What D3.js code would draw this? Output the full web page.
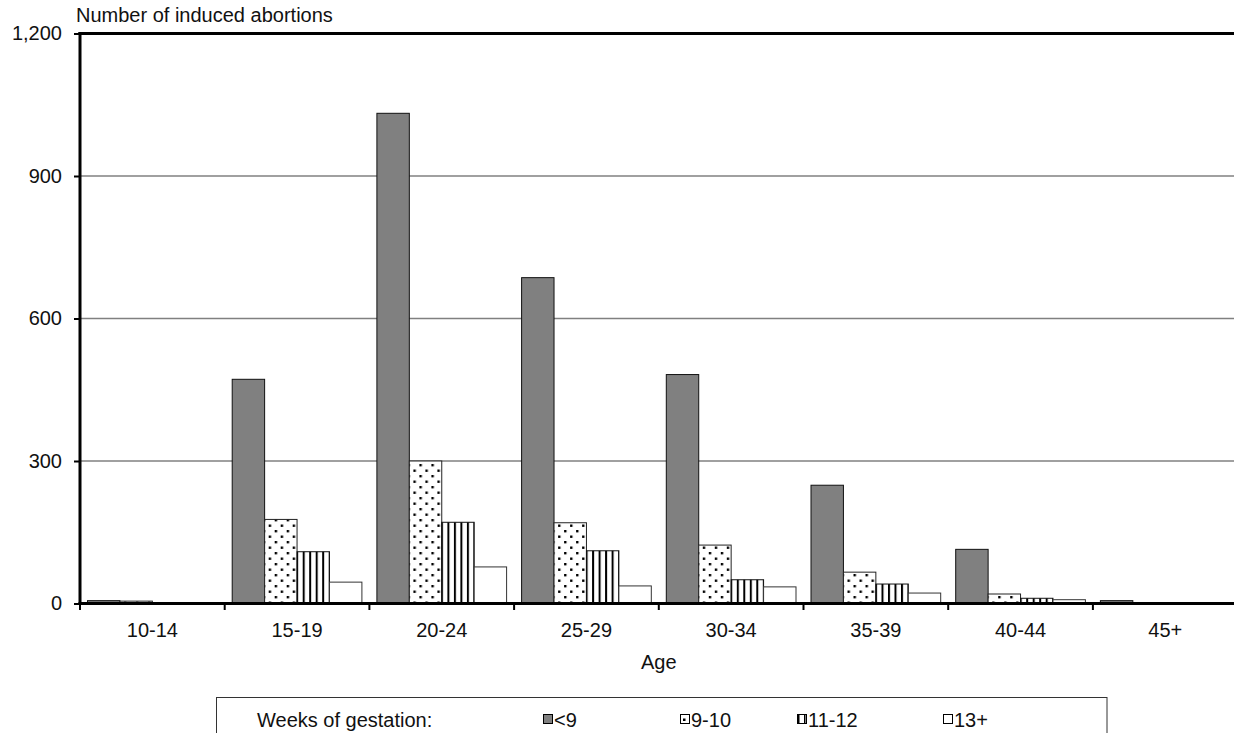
<!DOCTYPE html>
<html>
<head>
<meta charset="utf-8">
<script src="https://cdn.jsdelivr.net/npm/d3@7"></script>
<style>
  html, body { margin: 0; padding: 0; background: #fff; }
  svg { display: block; font-family: "Liberation Sans", Arial, sans-serif; }
</style>
</head>
<body>
<svg id="chart" width="1234" height="733"></svg>
<script>
// ---- Data ----
const categories = ["10-14", "15-19", "20-24", "25-29", "30-34", "35-39", "40-44", "45+"];
const seriesNames = ["<9", "9-10", "11-12", "13+"];
const lt9    = [6, 472, 1032, 686, 482, 249, 114, 6];
const w9_10  = [5, 177, 300, 170, 123, 66, 20, 2];
const w11_12 = [2, 109, 171, 111, 50, 41, 11, 0];
const w13p   = [0, 45, 77, 37, 35, 22, 8, 0];
const seriesValues = [lt9, w9_10, w11_12, w13p];
const yTicks = [0, 300, 600, 900, 1200];
const yTitle = "Number of induced abortions";
const xTitle = "Age";
const legendTitle = "Weeks of gestation:";

(function () {
// ---- Layout ----
const svg = d3.select("#chart");
const plotLeft = 80, plotTop = 33.5, plotBottom = 603.5, bandW = 144.7;
const plotRight = plotLeft + categories.length * bandW;

const x0 = d3.scaleBand().domain(categories).range([plotLeft, plotRight]).paddingInner(0).paddingOuter(0);
const x1 = d3.scaleBand().domain(seriesNames).range([7.5, bandW - 7.5]).padding(0);
const y = d3.scaleLinear().domain([0, 1200]).range([plotBottom, plotTop]);

// patterns
const defs = svg.append("defs");
const dots = defs.append("pattern").attr("id", "dots").attr("patternUnits", "userSpaceOnUse")
  .attr("width", 12).attr("height", 11);
dots.append("rect").attr("width", 12).attr("height", 11).attr("fill", "#fff");
dots.append("rect").attr("x", 2).attr("y", 2).attr("width", 2.4).attr("height", 2.4).attr("fill", "#000");
dots.append("rect").attr("x", 8).attr("y", 7.5).attr("width", 2.4).attr("height", 2.4).attr("fill", "#000");

const stripes = defs.append("pattern").attr("id", "stripes").attr("patternUnits", "userSpaceOnUse")
  .attr("width", 6.5).attr("height", 10);
stripes.append("rect").attr("width", 6.5).attr("height", 10).attr("fill", "#fff");
stripes.append("rect").attr("x", 0).attr("width", 2).attr("height", 10).attr("fill", "#000");

const fills = ["#808080", "url(#dots)", "url(#stripes)", "#fff"];
const strokes = ["#111", "#222", "#111", "#333"];

// gridlines
svg.append("g").selectAll("line").data(yTicks.filter(d => d > 0 && d < 1200)).join("line")
  .attr("x1", plotLeft).attr("x2", 1234).attr("y1", d => y(d)).attr("y2", d => y(d))
  .attr("stroke", "#808080").attr("stroke-width", 1.5);

// bars
const groups = svg.append("g").selectAll("g").data(categories).join("g")
  .attr("transform", d => `translate(${x0(d)},0)`);
groups.selectAll("rect")
  .data((c, ci) => seriesNames.map((s, si) => ({ s, si, v: seriesValues[si][ci] })).filter(d => d.v > 0))
  .join("rect")
  .attr("x", d => x1(d.s))
  .attr("width", x1.bandwidth())
  .attr("y", d => y(d.v))
  .attr("height", d => y(0) - y(d.v))
  .attr("fill", d => fills[d.si])
  .attr("stroke", d => strokes[d.si])
  .attr("stroke-width", 1);

// top border
svg.append("line").attr("x1", plotLeft - 1.5).attr("x2", 1234).attr("y1", plotTop).attr("y2", plotTop)
  .attr("stroke", "#000").attr("stroke-width", 3);

// y axis
const yAxis = d3.axisLeft(y).tickValues(yTicks).tickSize(6).tickPadding(12)
  .tickFormat(d3.format(","));
const gy = svg.append("g").attr("transform", `translate(${plotLeft},0)`).call(yAxis);
gy.select(".domain").remove();
gy.selectAll(".tick line").attr("stroke", "#000").attr("stroke-width", 2);
gy.selectAll(".tick text").attr("font-size", 20).attr("fill", "#111").attr("font-family", "Liberation Sans, Arial, sans-serif");
svg.append("line").attr("x1", plotLeft).attr("x2", plotLeft).attr("y1", plotTop - 1.5).attr("y2", plotBottom + 1.5)
  .attr("stroke", "#000").attr("stroke-width", 3);

// x axis
const xAxis = d3.axisBottom(x0).tickSize(0).tickPadding(19);
const gx = svg.append("g").attr("transform", `translate(0,${plotBottom})`).call(xAxis);
gx.select(".domain").remove();
gx.selectAll(".tick text").attr("font-size", 20).attr("fill", "#111").attr("font-family", "Liberation Sans, Arial, sans-serif");
// boundary ticks
svg.append("g").selectAll("line").data(d3.range(categories.length + 1)).join("line")
  .attr("x1", i => plotLeft + i * bandW).attr("x2", i => plotLeft + i * bandW)
  .attr("y1", plotBottom).attr("y2", plotBottom + 6.5)
  .attr("stroke", "#000").attr("stroke-width", 2);
svg.append("line").attr("x1", plotLeft - 1.5).attr("x2", 1234).attr("y1", plotBottom).attr("y2", plotBottom)
  .attr("stroke", "#000").attr("stroke-width", 3);

// titles
svg.append("text").attr("x", 76).attr("y", 22).attr("font-size", 20).attr("fill", "#111").text(yTitle);
svg.append("text").attr("x", (plotLeft + plotRight) / 2).attr("y", 669).attr("text-anchor", "middle")
  .attr("font-size", 20).attr("fill", "#111").text(xTitle);

// legend
const lg = svg.append("g");
lg.append("rect").attr("x", 216.5).attr("y", 697.5).attr("width", 890.5).attr("height", 60)
  .attr("fill", "#fff").attr("stroke", "#333").attr("stroke-width", 1);
lg.append("text").attr("x", 257).attr("y", 727).attr("font-size", 20).attr("fill", "#111").text(legendTitle);
const legX = [543, 680, 797, 943];
const legFills = ["#808080", "#fff", "#fff", "#fff"];
seriesNames.forEach((s, i) => {
  lg.append("rect").attr("x", legX[i] + 0.5).attr("y", 714.5).attr("width", 9).attr("height", 9)
    .attr("fill", legFills[i]).attr("stroke", "#000").attr("stroke-width", 1);
  if (i === 1) {
    lg.append("rect").attr("x", legX[i] + 3).attr("y", 718.5).attr("width", 2.5).attr("height", 2.5).attr("fill", "#000");
  }
  if (i === 2) {
    lg.append("rect").attr("x", legX[i] + 1).attr("y", 715).attr("width", 1.5).attr("height", 8).attr("fill", "#000");
    lg.append("rect").attr("x", legX[i] + 7).attr("y", 715).attr("width", 1.5).attr("height", 8).attr("fill", "#000");
  }
  lg.append("text").attr("x", legX[i] + 11).attr("y", 727).attr("font-size", 20).attr("fill", "#111").text(s);
});
})();
</script>
</body>
</html>
